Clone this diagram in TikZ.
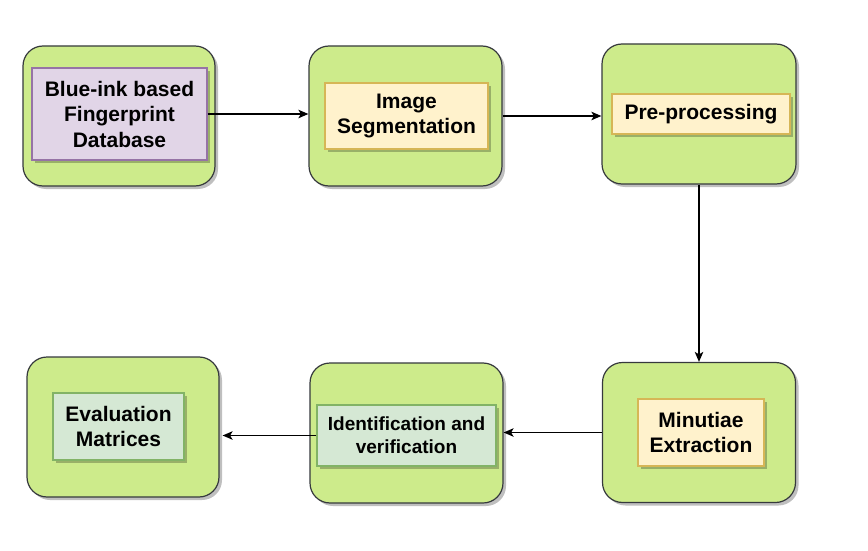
\documentclass[tikz,border=0pt]{standalone}
\usepackage{fontspec}
\setmainfont{Liberation Sans}
\usetikzlibrary{arrows.meta,shadows}

\definecolor{stagegreen}{HTML}{CDEB8B}
\definecolor{stageline}{HTML}{36393D}
\definecolor{purplefill}{HTML}{E1D5E7}
\definecolor{purpleline}{HTML}{9673A6}
\definecolor{yellowfill}{HTML}{FFF2CC}
\definecolor{yellowline}{HTML}{D6B656}
\definecolor{greenfill}{HTML}{D5E8D4}
\definecolor{greenline}{HTML}{82B366}

\tikzset{
  stage/.style={draw=stageline,fill=stagegreen,line width=1.2pt,rounded corners=20pt,
    inner sep=0pt,drop shadow={shadow xshift=3pt,shadow yshift=-3pt,fill=black,opacity=0.25}},
  label/.style={line width=1.2pt,inner sep=0pt,align=center,
    font=\bfseries\fontsize{21}{25.5}\selectfont,
    drop shadow={shadow xshift=3pt,shadow yshift=-3pt,fill=black,opacity=0.25}},
  flow/.style={-{Stealth[length=10pt,width=8.5pt,inset=2.5pt]},line width=1.3pt,black},
}

\begin{document}
\begin{tikzpicture}[x=1pt,y=-1pt]
\useasboundingbox (0,0) rectangle (868,551);

% outer stages
\node[stage,minimum width=192pt,minimum height=140pt] (out1) at (119,116) {};
\node[stage,minimum width=193pt,minimum height=140pt] (out2) at (405.5,116) {};
\node[stage,minimum width=194pt,minimum height=140pt] (out3) at (699,114) {};
\node[stage,minimum width=193pt,minimum height=140pt] (out4) at (699,432.5) {};
\node[stage,minimum width=193pt,minimum height=140pt] (out5) at (406.5,433) {};
\node[stage,minimum width=192pt,minimum height=140pt] (out6) at (123,427) {};

% inner labels
\node[label,draw=purpleline,fill=purplefill,minimum width=175pt,minimum height=92pt] (in1) at (119.5,114)
  {Blue-ink based\\Fingerprint\\Database};
\node[label,draw=yellowline,fill=yellowfill,minimum width=163pt,minimum height=66pt] (in2) at (406.5,116)
  {Image\\Segmentation};
\node[label,draw=yellowline,fill=yellowfill,minimum width=178pt,minimum height=40pt] (in3) at (701,114)
  {Pre-processing};
\node[label,draw=yellowline,fill=yellowfill,minimum width=126pt,minimum height=67pt] (in4) at (701,432.5)
  {Minutiae\\Extraction};
\node[label,draw=greenline,fill=greenfill,minimum width=179pt,minimum height=61pt,
  font=\bfseries\fontsize{19}{23}\selectfont] (in5) at (406.5,435.5)
  {Identification and\\verification};
\node[label,draw=greenline,fill=greenfill,minimum width=131pt,minimum height=67pt] (in6) at (118.5,426.5)
  {Evaluation\\Matrices};

% connectors
\draw[flow] (in1.east) -- (in1.east -| out2.west);
\draw[flow] (out2.east) -- (out2.east -| out3.west);
\draw[flow] (out3.south) -- (out4.north);
\draw[flow] (out4.west) -- (out4.west -| out5.east);
\draw[flow] (in5.west) -- ([xshift=3pt]in5.west -| out6.east);

\end{tikzpicture}
\end{document}
